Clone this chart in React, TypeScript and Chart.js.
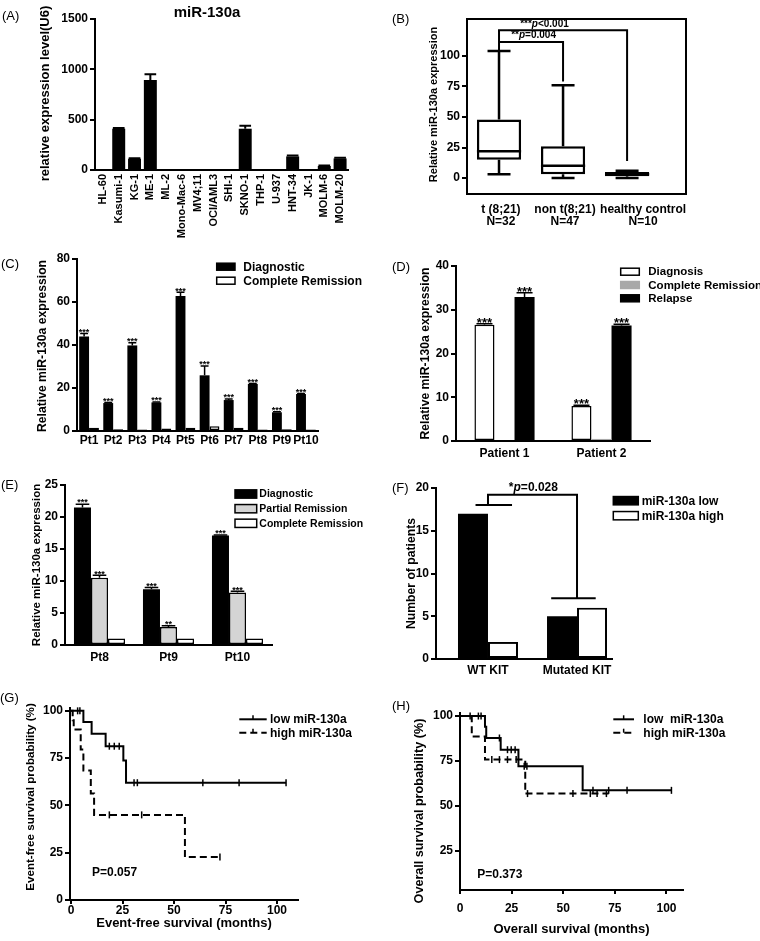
import React, { useEffect, useRef } from "react";
import { Chart, registerables } from "chart.js";

Chart.register(...registerables);

const FONT = "'Liberation Sans', Arial, Helvetica, sans-serif";
const BLACK = "#000000";
Chart.defaults.font.family = FONT;
Chart.defaults.color = BLACK;

// ---------------- (A) cell lines ----------------
const aCells = ["HL-60", "Kasumi-1", "KG-1", "ME-1", "ML-2", "Mono-Mac-6", "MV4;11", "OCI/AML3", "SHI-1", "SKNO-1", "THP-1", "U-937", "HNT-34", "JK-1", "MOLM-6", "MOLM-20"];
const aValues = [2, 410, 112, 895, 8, 2, 8, 6, 6, 410, 2, 6, 135, 2, 40, 115];
const aErrors = [0, 8, 4, 55, 0, 0, 0, 0, 0, 30, 0, 0, 8, 0, 5, 6];
const aTicks = [0, 500, 1000, 1500];

// ---------------- (B) box plot ----------------
const bGroups = [["t (8;21)", "N=32"], ["non t(8;21)", "N=47"], ["healthy control", "N=10"]];
const bLabelPos = [0.03, 1.03, 2.25];
const bMin = [3, 0, 0];
const bQ1 = [15, 3, 1.5];
const bMedian = [22, 10, 3];
const bQ3 = [48, 26, 5];
const bMax = [104, 76, 6];
const bTicks = [0, 25, 50, 75, 100];
const bBrackets = [
  [[0, 104], [0, 121], [2, 121], [2, 14]],
  [[0, 111.5], [1, 111.5], [1, 79]],
];
const bSig1 = ["***", "p", "<0.001"];
const bSig2 = ["**", "p", "=0.004"];

// ---------------- (C) ----------------
const cPatients = ["Pt1", "Pt2", "Pt3", "Pt4", "Pt5", "Pt6", "Pt7", "Pt8", "Pt9", "Pt10"];
const cDiagnostic = [43.9, 13.0, 39.8, 13.3, 62.8, 25.9, 14.4, 21.9, 8.7, 17.2];
const cDiagErr = [1.5, 0.2, 1.3, 0.2, 1.7, 4.3, 0.5, 0.2, 0.2, 0.2];
const cRemission = [1.5, 0.8, 0.7, 1.2, 1.5, 2.2, 1.5, 0.7, 0.8, 0.7];
const cStars = ["***", "***", "***", "***", "***", "***", "***", "***", "***", "***"];
const cTicks = [0, 20, 40, 60, 80];

// ---------------- (D) ----------------
const dPatients = ["Patient 1", "Patient 2"];
const dDiagnosis = [26.6, 8.0];
const dDiagErr = [0.2, 0.2];
const dRemission = [null, 0.5];
const dRelapse = [32.9, 26.4];
const dRelapseErr = [1.0, 0.3];
const dDiagStars = ["***", "***"];
const dRelapseStars = ["***", "***"];
const dTicks = [0, 10, 20, 30, 40];

// ---------------- (E) ----------------
const ePatients = ["Pt8", "Pt9", "Pt10"];
const eDiagnostic = [21.5, 8.7, 17.1];
const eDiagErr = [0.5, 0.3, 0.1];
const ePartial = [10.5, 2.8, 8.2];
const ePartialErr = [0.4, 0.2, 0.2];
const eComplete = [1, 1, 1];
const eDiagStars = ["***", "***", "***"];
const ePartialStars = ["***", "**", "***"];
const eTicks = [0, 5, 10, 15, 20, 25];

// ---------------- (F) ----------------
const fGroups = ["WT KIT", "Mutated KIT"];
const fLow = [17, 5];
const fHigh = [2, 6];
const fTicks = [0, 5, 10, 15, 20];
const fBrackets = [
  [[0, 18], [0, 19.2], [1, 19.2], [1, 7.1]],
  [[-0.14, 18], [0.27, 18]],
  [[0.71, 7.1], [1.21, 7.1]],
];
const fSig = ["*", "p", "=0.028"];

// ---------------- (G) event-free survival ----------------
const gLowTime = [0, 6.0, 10.0, 16.8, 25.4, 26.7, 104.4];
const gLowSurv = [100, 94.1, 87.9, 81.3, 73.8, 62.0, 62.0];
const gLowCensorTime = [3.2, 4.3, 18.6, 21.0, 23.4, 30.6, 32.2, 64.0, 81.6, 104.4];
const gLowCensorSurv = [100, 100, 81.3, 81.3, 81.3, 62.0, 62.0, 62.0, 62.0, 62.0];
const gHighTime = [0, 0.8, 1.3, 4.7, 6.0, 9.6, 11.2, 55.3, 72.3];
const gHighSurv = [100, 95, 90.2, 79.5, 68.4, 56.3, 45.0, 22.7, 22.7];
const gHighCensorTime = [18.6, 34.3, 72.3];
const gHighCensorSurv = [45.0, 45.0, 22.7];
const gTicks = [0, 25, 50, 75, 100];

// ---------------- (H) overall survival ----------------
const hLowTime = [0, 12.1, 12.7, 19.7, 28.3, 59.4, 102.4];
const hLowSurv = [100, 94, 87.8, 81.3, 72.1, 58.7, 58.7];
const hLowCensorTime = [4.9, 8.9, 10.2, 19.1, 23.0, 24.8, 26.7, 31.1, 32.4, 64.4, 72.0, 80.9, 102.4];
const hLowCensorSurv = [100, 100, 100, 87.8, 81.3, 81.3, 81.3, 72.1, 72.1, 58.7, 58.7, 58.7, 58.7];
const hHighTime = [0, 5.7, 12.1, 31.6, 72.0];
const hHighSurv = [100, 88.7, 75.8, 56.9, 56.9];
const hHighCensorTime = [15.4, 19.1, 23.0, 27.2, 32.7, 54.7, 63.1, 66.4, 70.9];
const hHighCensorSurv = [75.8, 75.8, 75.8, 75.8, 56.9, 56.9, 56.9, 56.9, 56.9];
const hXTicks = [0, 25, 50, 75, 100];
const hYTicks = [25, 50, 75, 100];

// ---------------- helpers ----------------
const tickFont = (size: number) => ({ family: FONT, size, weight: "bold" as const, lineHeight: 1.05 });
const numCb = (v: any) => String(v);

function yAxis(o: any) {
  return {
    type: "linear",
    min: o.min,
    max: o.max,
    offset: false,
    afterBuildTicks: (s: any) => {
      s.ticks = o.ticks.map((v: number) => ({ value: v }));
    },
    afterFit: (s: any) => {
      s.width = o.width;
    },
    ticks: { font: tickFont(12), color: BLACK, padding: 2, callback: numCb, autoSkip: false },
    grid: { display: true, drawOnChartArea: false, drawTicks: true, tickLength: 5, color: BLACK, lineWidth: 2 },
    border: { display: true, color: BLACK, width: 2 },
    title: { display: false },
  };
}

function xCategory(o: any) {
  return {
    type: "category",
    offset: true,
    afterFit: (s: any) => {
      s.height = o.height;
    },
    ticks: {
      font: tickFont(o.size ?? 12),
      color: BLACK,
      padding: o.pad,
      autoSkip: false,
      maxRotation: o.rot ?? 0,
      minRotation: o.rot ?? 0,
    },
    grid: { display: false, drawTicks: false },
    border: { display: true, color: BLACK, width: 2 },
  };
}

function xIndex(o: any) {
  const pos = o.positions || o.labels.map((_: any, i: number) => i);
  return {
    type: "linear",
    min: o.min,
    max: o.max,
    offset: false,
    afterBuildTicks: (s: any) => {
      s.ticks = pos.map((v: number) => ({ value: v }));
    },
    afterFit: (s: any) => {
      s.height = o.height;
    },
    ticks: {
      font: tickFont(12),
      color: BLACK,
      padding: o.pad,
      autoSkip: false,
      maxRotation: 0,
      minRotation: 0,
      callback: (_v: any, idx: number) => o.labels[idx],
    },
    grid: { display: false, drawTicks: false, offset: false },
    border: { display: true, color: BLACK, width: 2 },
  };
}

function xLinear(o: any) {
  return {
    type: "linear",
    min: o.min,
    max: o.max,
    offset: false,
    afterBuildTicks: (s: any) => {
      s.ticks = o.ticks.map((v: number) => ({ value: v }));
    },
    afterFit: (s: any) => {
      s.height = o.height;
    },
    ticks: { font: tickFont(12), color: BLACK, padding: o.pad, callback: numCb, autoSkip: false, maxRotation: 0, minRotation: 0 },
    grid: { display: true, drawOnChartArea: false, drawTicks: true, tickLength: 4, color: BLACK, lineWidth: 2 },
    border: { display: true, color: BLACK, width: 2 },
    title: {
      display: true,
      text: o.title,
      color: BLACK,
      font: { family: FONT, size: o.titleSize, weight: "bold" },
      padding: { top: 0, bottom: o.titleBottom },
    },
  };
}

function baseOptions(padding: any, scales: any, plugins: any) {
  return {
    responsive: false,
    animation: false,
    events: [],
    layout: { padding },
    scales,
    plugins: { legend: { display: false }, tooltip: { enabled: false }, title: { display: false }, ...plugins },
  };
}

function drawRuns(ctx: any, runs: any[], x: number, y: number, align: string) {
  let total = 0;
  runs.forEach((r) => {
    ctx.font = r.font;
    total += ctx.measureText(r.text).width;
  });
  let cx = align === "center" ? x - total / 2 : align === "right" ? x - total : x;
  ctx.textAlign = "left";
  ctx.textBaseline = "middle";
  ctx.fillStyle = BLACK;
  runs.forEach((r) => {
    ctx.font = r.font;
    ctx.fillText(r.text, cx, y);
    cx += ctx.measureText(r.text).width;
  });
}

const sigRuns = (parts: string[], size: number) => [
  { text: parts[0], font: `bold ${size}px ${FONT}` },
  { text: parts[1], font: `italic bold ${size}px ${FONT}` },
  { text: parts[2], font: `bold ${size}px ${FONT}` },
];

// ---------------- plugins ----------------
const errBars = {
  id: "errbars",
  afterDatasetsDraw(chart: any, _a: any, o: any) {
    const ctx = chart.ctx;
    const y = chart.scales.y;
    chart.data.datasets.forEach((ds: any, di: number) => {
      const meta = chart.getDatasetMeta(di);
      meta.data.forEach((bar: any, i: number) => {
        const raw = ds.data[i];
        if (raw === null || raw === undefined) return;
        const v = typeof raw === "object" ? raw.y : raw;
        const err = ds.errors ? ds.errors[i] || 0 : 0;
        const base = y.getPixelForValue(v);
        const top = y.getPixelForValue(v + err);
        const { x, width } = bar.getProps(["x", "width"], true);
        ctx.save();
        ctx.strokeStyle = BLACK;
        ctx.lineWidth = o.lineWidth ?? 1.5;
        if (err > 0) {
          const hw = width * (o.capFrac ?? 0.35);
          ctx.beginPath();
          ctx.moveTo(x, base);
          ctx.lineTo(x, top);
          ctx.moveTo(x - hw, top);
          ctx.lineTo(x + hw, top);
          ctx.stroke();
        }
        const s = ds.stars ? ds.stars[i] : "";
        if (s) {
          const size = o.starSize ?? 9;
          ctx.font = `bold ${size}px ${FONT}`;
          ctx.fillStyle = BLACK;
          ctx.textAlign = "center";
          ctx.textBaseline = "alphabetic";
          ctx.fillText(s, x, top - (o.starGap ?? 2.5) + 0.42 * size);
        }
        ctx.restore();
      });
    });
  },
};

// vertical axis title drawn without the scale's width limit
const freeTitle = {
  id: "freeTitle",
  afterDraw(chart: any, _a: any, o: any) {
    if (!o || !o.text) return;
    const { ctx, chartArea: ca } = chart;
    ctx.save();
    ctx.translate(o.x, (ca.top + ca.bottom) / 2 + (o.dy || 0));
    ctx.rotate(-Math.PI / 2);
    ctx.font = `bold ${o.size}px ${FONT}`;
    ctx.fillStyle = BLACK;
    ctx.textAlign = "center";
    ctx.textBaseline = "middle";
    ctx.fillText(o.text, 0, 0);
    ctx.restore();
  },
};

const boxLegend = {
  id: "boxLegend",
  afterDraw(chart: any, _a: any, o: any) {
    const ctx = chart.ctx;
    chart.data.datasets.forEach((ds: any, i: number) => {
      const cy = o.rows[i];
      ctx.save();
      ctx.fillStyle = ds.backgroundColor;
      ctx.fillRect(o.x, cy - o.h / 2, o.w, o.h);
      ctx.strokeStyle = ds.legendBorder || BLACK;
      ctx.lineWidth = 1.5;
      ctx.strokeRect(o.x, cy - o.h / 2, o.w, o.h);
      ctx.font = `bold ${o.size}px ${FONT}`;
      ctx.fillStyle = BLACK;
      ctx.textAlign = "left";
      ctx.textBaseline = "middle";
      ctx.fillText(ds.label, o.textX, cy + 0.5);
      ctx.restore();
    });
  },
};

const kmLegend = {
  id: "kmLegend",
  afterDraw(chart: any, _a: any, o: any) {
    const ctx = chart.ctx;
    const items = chart.data.datasets.filter((d: any) => d.legendLabel);
    items.forEach((ds: any, i: number) => {
      const cy = o.rows[i];
      ctx.save();
      ctx.strokeStyle = BLACK;
      ctx.lineWidth = 2;
      ctx.setLineDash(ds.borderDash || []);
      ctx.beginPath();
      ctx.moveTo(o.x0, cy);
      ctx.lineTo(o.x1, cy);
      ctx.stroke();
      ctx.setLineDash([]);
      ctx.lineWidth = 1.5;
      const mx = (o.x0 + o.x1) / 2;
      ctx.beginPath();
      ctx.moveTo(mx, cy - 4);
      ctx.lineTo(mx, cy);
      ctx.stroke();
      ctx.font = `bold ${o.size}px ${FONT}`;
      ctx.fillStyle = BLACK;
      ctx.textAlign = "left";
      ctx.textBaseline = "middle";
      ctx.fillText(ds.legendLabel, o.textX, cy + 0.5);
      ctx.restore();
    });
  },
};

const brackets = {
  id: "brackets",
  afterDraw(chart: any, _a: any, o: any) {
    const { ctx, chartArea: ca } = chart;
    const x = chart.scales.x;
    const y = chart.scales.y;
    ctx.save();
    ctx.strokeStyle = BLACK;
    ctx.lineWidth = o.lineWidth ?? 2;
    if (o.frame) ctx.strokeRect(ca.left, ca.top, ca.right - ca.left, ca.bottom - ca.top);
    (o.paths || []).forEach((path: number[][]) => {
      ctx.beginPath();
      path.forEach(([px, py], k) => {
        const X = x.getPixelForValue(px);
        const Y = y.getPixelForValue(py);
        if (k) ctx.lineTo(X, Y);
        else ctx.moveTo(X, Y);
      });
      ctx.stroke();
    });
    ctx.restore();
  },
};

const notes = {
  id: "notes",
  afterDraw(chart: any, _a: any, o: any) {
    const ctx = chart.ctx;
    const x = chart.scales.x;
    const y = chart.scales.y;
    (o.items || []).forEach((it: any) => {
      ctx.save();
      drawRuns(ctx, it.runs, x.getPixelForValue(it.x), y.getPixelForValue(it.y), it.align);
      ctx.restore();
    });
  },
};

const boxWhiskers = {
  id: "boxWhiskers",
  afterDatasetsDraw(chart: any, _a: any, o: any) {
    const ctx = chart.ctx;
    const y = chart.scales.y;
    const meta = chart.getDatasetMeta(0);
    ctx.save();
    ctx.strokeStyle = BLACK;
    ctx.lineWidth = o.lineWidth;
    meta.data.forEach((el: any, i: number) => {
      const { x, width } = el.getProps(["x", "width"], true);
      const hw = width / 2;
      const cw = (width * o.capFrac) / 2;
      const pMin = y.getPixelForValue(o.lows[i]);
      const pMax = y.getPixelForValue(o.highs[i]);
      const pQ1 = y.getPixelForValue(o.q1[i]);
      const pQ3 = y.getPixelForValue(o.q3[i]);
      const pMed = y.getPixelForValue(o.medians[i]);
      ctx.beginPath();
      ctx.moveTo(x - hw, pMed);
      ctx.lineTo(x + hw, pMed);
      ctx.moveTo(x, pQ3);
      ctx.lineTo(x, pMax);
      ctx.moveTo(x - cw, pMax);
      ctx.lineTo(x + cw, pMax);
      ctx.moveTo(x, pQ1);
      ctx.lineTo(x, pMin);
      ctx.moveTo(x - cw, pMin);
      ctx.lineTo(x + cw, pMin);
      ctx.stroke();
    });
    ctx.restore();
  },
};

// ---------------- chart configs ----------------
const relTitle = "Relative miR-130a expression";

const configA = () => ({
  type: "bar",
  data: {
    labels: aCells,
    datasets: [
      { label: "miR-130a", data: aValues, errors: aErrors, backgroundColor: BLACK, borderColor: BLACK, borderWidth: 0, borderSkipped: false, categoryPercentage: 0.82, barPercentage: 1 },
    ],
  },
  options: baseOptions(
    { left: 0, top: 19, right: 32, bottom: 0 },
    {
      x: xCategory({ height: 70, pad: 4, size: 11, rot: 90 }),
      y: yAxis({ min: 0, max: 1500, ticks: aTicks, width: 95 }),
    },
    {
      errbars: { capFrac: 0.45, lineWidth: 2 },
      freeTitle: { text: "relative expression level(U6)", x: 45, size: 13, dy: -1 },
    }
  ),
  plugins: [errBars, freeTitle],
});

const configB = () => ({
  type: "bar",
  data: {
    datasets: [
      {
        label: "box",
        data: bGroups.map((_, i) => ({ x: i, y: [bQ1[i], bQ3[i]] })),
        backgroundColor: "#ffffff",
        borderColor: BLACK,
        borderWidth: 2.5,
        borderSkipped: false,
        categoryPercentage: 0.69,
        barPercentage: 1,
      },
    ],
  },
  options: baseOptions(
    { left: 0, top: 19, right: 74, bottom: 0 },
    {
      x: xIndex({ min: -0.5, max: 2.92, labels: bGroups, positions: bLabelPos, height: 46, pad: 9 }),
      y: yAxis({ min: -13.1, max: 130.3, ticks: bTicks, width: 87 }),
    },
    {
      boxWhiskers: { lows: bMin, q1: bQ1, medians: bMedian, q3: bQ3, highs: bMax, capFrac: 0.52, lineWidth: 2.5 },
      brackets: { frame: true, paths: bBrackets, lineWidth: 2 },
      notes: {
        items: [
          { x: 0.33, y: 125.8, align: "left", runs: sigRuns(bSig1, 10) },
          { x: 0.19, y: 117, align: "left", runs: sigRuns(bSig2, 10) },
        ],
      },
      freeTitle: { text: relTitle, x: 54, size: 11, dy: -2 },
    }
  ),
  plugins: [boxWhiskers, brackets, notes, freeTitle],
});

const configC = () => ({
  type: "bar",
  data: {
    labels: cPatients,
    datasets: [
      { label: "Diagnostic", data: cDiagnostic, errors: cDiagErr, stars: cStars, backgroundColor: BLACK, borderColor: BLACK, borderWidth: 0, borderSkipped: false, categoryPercentage: 0.82, barPercentage: 1 },
      { label: "Complete Remission", data: cRemission, backgroundColor: "#ffffff", borderColor: BLACK, borderWidth: 1.5, borderSkipped: false, categoryPercentage: 0.82, barPercentage: 1 },
    ],
  },
  options: baseOptions(
    { left: 0, top: 19, right: 62, bottom: 0 },
    {
      x: xCategory({ height: 39, pad: 3.5 }),
      y: yAxis({ min: 0, max: 80, ticks: cTicks, width: 77 }),
    },
    {
      errbars: { starSize: 9, starGap: 2.5, capFrac: 0.4, lineWidth: 1.5 },
      boxLegend: { x: 216.7, w: 18.3, h: 7, rows: [26.7, 40.7], textX: 243.3, size: 12 },
      freeTitle: { text: relTitle, x: 43, size: 12.2, dy: 1 },
    }
  ),
  plugins: [errBars, boxLegend, freeTitle],
});

const configD = () => ({
  type: "bar",
  data: {
    labels: dPatients,
    datasets: [
      { label: "Diagnosis", data: dDiagnosis, errors: dDiagErr, stars: dDiagStars, backgroundColor: "#ffffff", borderColor: BLACK, borderWidth: 1.5, borderSkipped: false, categoryPercentage: 0.62, barPercentage: 1 },
      { label: "Complete Remission", data: dRemission, backgroundColor: "#a8a8a8", borderColor: "#a8a8a8", legendBorder: "#a8a8a8", borderWidth: 1, borderSkipped: false, categoryPercentage: 0.62, barPercentage: 1 },
      { label: "Relapse", data: dRelapse, errors: dRelapseErr, stars: dRelapseStars, backgroundColor: BLACK, borderColor: BLACK, borderWidth: 0, borderSkipped: false, categoryPercentage: 0.62, barPercentage: 1 },
    ],
  },
  options: baseOptions(
    { left: 0, top: 26, right: 110, bottom: 0 },
    {
      x: xCategory({ height: 29, pad: 6.8 }),
      y: yAxis({ min: 0, max: 40, ticks: dTicks, width: 76 }),
    },
    {
      errbars: { starSize: 13, starGap: 2.5, capFrac: 0.4, lineWidth: 1.5 },
      boxLegend: { x: 240.7, w: 18.6, h: 7, rows: [31.7, 45, 58.3], textX: 268.3, size: 11.5 },
      freeTitle: { text: relTitle, x: 46, size: 12.2, dy: 0 },
    }
  ),
  plugins: [errBars, boxLegend, freeTitle],
});

const configE = () => ({
  type: "bar",
  data: {
    labels: ePatients,
    datasets: [
      { label: "Diagnostic", data: eDiagnostic, errors: eDiagErr, stars: eDiagStars, backgroundColor: BLACK, borderColor: BLACK, borderWidth: 0, borderSkipped: false, categoryPercentage: 0.74, barPercentage: 1 },
      { label: "Partial Remission", data: ePartial, errors: ePartialErr, stars: ePartialStars, backgroundColor: "#d4d4d4", borderColor: BLACK, borderWidth: 1.5, borderSkipped: false, categoryPercentage: 0.74, barPercentage: 1 },
      { label: "Complete Remission", data: eComplete, backgroundColor: "#ffffff", borderColor: BLACK, borderWidth: 1.5, borderSkipped: false, categoryPercentage: 0.74, barPercentage: 1 },
    ],
  },
  options: baseOptions(
    { left: 0, top: 15, right: 108, bottom: 0 },
    {
      x: xCategory({ height: 45, pad: 6 }),
      y: yAxis({ min: 0, max: 25, ticks: eTicks, width: 65 }),
    },
    {
      errbars: { starSize: 9, starGap: 2.5, capFrac: 0.4, lineWidth: 1.5 },
      boxLegend: { x: 235, w: 21.7, h: 8.3, rows: [24, 38.7, 53.3], textX: 259.3, size: 10.5 },
      freeTitle: { text: relTitle, x: 37, size: 11.5, dy: 0 },
    }
  ),
  plugins: [errBars, boxLegend, freeTitle],
});

const configF = () => ({
  type: "bar",
  data: {
    datasets: [
      { label: "miR-130a low", data: fLow.map((v, i) => ({ x: i, y: v })), backgroundColor: BLACK, borderColor: BLACK, borderWidth: 0, borderSkipped: false, categoryPercentage: 0.674, barPercentage: 1 },
      { label: "miR-130a high", data: fHigh.map((v, i) => ({ x: i, y: v })), backgroundColor: "#ffffff", borderColor: BLACK, borderWidth: 2, borderSkipped: false, categoryPercentage: 0.674, barPercentage: 1 },
    ],
  },
  options: baseOptions(
    { left: 0, top: 18, right: 148, bottom: 0 },
    {
      x: xIndex({ min: -0.584, max: 1.393, labels: fGroups, height: 31, pad: 5.5 }),
      y: yAxis({ min: 0, max: 20, ticks: fTicks, width: 56 }),
    },
    {
      boxLegend: { x: 233.3, w: 25, h: 8.3, rows: [30.7, 45.7], textX: 261.7, size: 12 },
      brackets: { paths: fBrackets, lineWidth: 2 },
      notes: { items: [{ x: 0.51, y: 20.06, align: "center", runs: sigRuns(fSig, 12) }] },
      freeTitle: { text: "Number of patients", x: 32, size: 12.2, dy: 0 },
    }
  ),
  plugins: [boxLegend, brackets, notes, freeTitle],
});

const pts = (xs: number[], ys: number[]) => xs.map((t, i) => ({ x: t, y: ys[i] }));

const kmLine = (label: string, xs: number[], ys: number[], dash: number[]) => ({
  type: "line",
  legendLabel: label,
  data: pts(xs, ys),
  stepped: true,
  borderColor: BLACK,
  borderWidth: 2,
  borderDash: dash,
  pointRadius: 0,
  fill: false,
  clip: false,
});

const kmCensor = (xs: number[], ys: number[]) => ({
  type: "line",
  data: pts(xs, ys),
  showLine: false,
  pointStyle: "line",
  pointRotation: 90,
  pointRadius: 3.5,
  pointBorderWidth: 1.5,
  pointBorderColor: BLACK,
  pointBackgroundColor: BLACK,
  clip: false,
});

const configG = () => ({
  type: "line",
  data: {
    datasets: [
      kmLine("low miR-130a", gLowTime, gLowSurv, []),
      kmLine("high miR-130a", gHighTime, gHighSurv, [7, 4]),
      kmCensor(gLowCensorTime, gLowCensorSurv),
      kmCensor(gHighCensorTime, gHighCensorSurv),
    ],
  },
  options: baseOptions(
    { left: 0, top: 18, right: 82, bottom: 0 },
    {
      x: xLinear({ min: -0.5, max: 110.2, ticks: gTicks, height: 41, pad: 0, title: "Event-free survival (months)", titleSize: 13, titleBottom: 10.2 }),
      y: yAxis({ min: 0, max: 101.5, ticks: gTicks, width: 70 }),
    },
    {
      kmLegend: { x0: 239.3, x1: 266.7, rows: [29.3, 42.7], textX: 270, size: 12 },
      notes: { items: [{ x: 10.2, y: 14.3, align: "left", runs: [{ text: "P=0.057", font: `bold 12px ${FONT}` }] }] },
      freeTitle: { text: "Event-free survival probability (%)", x: 31, size: 11.6, dy: -7 },
    }
  ),
  plugins: [kmLegend, notes, freeTitle],
});

const configH = () => ({
  type: "line",
  data: {
    datasets: [
      kmLine("low  miR-130a", hLowTime, hLowSurv, []),
      kmLine("high miR-130a", hHighTime, hHighSurv, [7, 4]),
      kmCensor(hLowCensorTime, hLowCensorSurv),
      kmCensor(hHighCensorTime, hHighCensorSurv),
    ],
  },
  options: baseOptions(
    { left: 0, top: 23, right: 77, bottom: 0 },
    {
      x: xLinear({ min: 0, max: 108, ticks: hXTicks, height: 51, pad: 8.8, title: "Overall survival (months)", titleSize: 13, titleBottom: 4.2 }),
      y: yAxis({ min: 3.3, max: 101.7, ticks: hYTicks, width: 80 }),
    },
    {
      kmLegend: { x0: 233.3, x1: 254, rows: [29.3, 42.7], textX: 263.3, size: 12 },
      notes: { items: [{ x: 8.4, y: 11.7, align: "left", runs: [{ text: "P=0.373", font: `bold 12px ${FONT}` }] }] },
      freeTitle: { text: "Overall survival probability (%)", x: 40, size: 12.6, dy: 9.5 },
    }
  ),
  plugins: [kmLegend, notes, freeTitle],
});

// ---------------- components ----------------
function ChartCanvas({ left, top, width, height, make }: any) {
  const ref = useRef<HTMLCanvasElement | null>(null);
  useEffect(() => {
    if (!ref.current) return;
    const chart = new Chart(ref.current, make() as any);
    return () => chart.destroy();
  }, []);
  return (
    <canvas
      ref={ref}
      width={width}
      height={height}
      style={{ position: "absolute", left, top, width, height, display: "block" }}
    />
  );
}

const panelLetters = [
  { t: "(A)", x: 2, y: 16 },
  { t: "(B)", x: 392, y: 18.5 },
  { t: "(C)", x: 1, y: 264 },
  { t: "(D)", x: 392, y: 267 },
  { t: "(E)", x: 1, y: 485 },
  { t: "(F)", x: 392, y: 488 },
  { t: "(G)", x: 0, y: 698 },
  { t: "(H)", x: 392, y: 706 },
];

const panels = [
  { left: 0, top: 0, width: 380, height: 240, make: configA },
  { left: 380, top: 0, width: 380, height: 240, make: configB },
  { left: 0, top: 240, width: 380, height: 230, make: configC },
  { left: 380, top: 240, width: 380, height: 230, make: configD },
  { left: 0, top: 470, width: 380, height: 220, make: configE },
  { left: 380, top: 470, width: 380, height: 220, make: configF },
  { left: 0, top: 690, width: 380, height: 251, make: configG },
  { left: 380, top: 690, width: 380, height: 251, make: configH },
];

export default function App() {
  return (
    <div
      style={{
        position: "absolute",
        left: 0,
        top: 0,
        width: 760,
        height: 941,
        background: "#ffffff",
        overflow: "hidden",
        fontFamily: FONT,
        color: BLACK,
      }}
    >
      {panels.map((p, i) => (
        <ChartCanvas key={i} {...p} />
      ))}
      {panelLetters.map((l) => (
        <div
          key={l.t}
          style={{ position: "absolute", left: l.x, top: l.y - 7, fontSize: 13, lineHeight: "14px", whiteSpace: "nowrap" }}
        >
          {l.t}
        </div>
      ))}
      <div
        style={{
          position: "absolute",
          left: 147,
          top: 4,
          width: 120,
          textAlign: "center",
          fontSize: 15,
          fontWeight: "bold",
          lineHeight: "16px",
        }}
      >
        miR-130a
      </div>
    </div>
  );
}
